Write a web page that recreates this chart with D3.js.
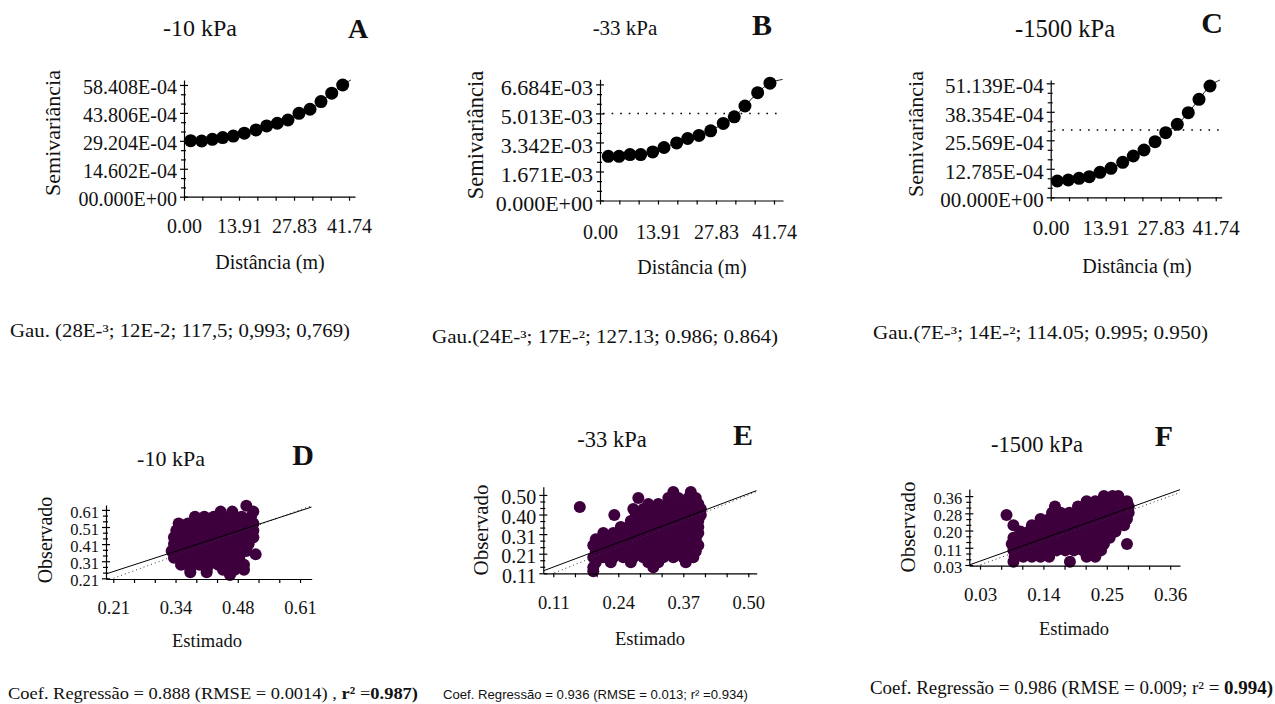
<!DOCTYPE html>
<html>
<head>
<meta charset="utf-8">
<script src="https://cdn.jsdelivr.net/npm/d3@7"></script>
<style>
  body { margin: 0; background: #fff; }
  svg { display: block; }
  text { font-family: "Liberation Serif", "Times New Roman", serif; fill: #111; }
</style>
</head>
<body>
<svg id="fig" width="1275" height="704"></svg>
<script>
// ---------- semivariogram data (lag distance in m, semivariance) ----------
var distA = [1.69, 4.47, 7.16, 9.79, 12.47, 15.25, 18.21, 20.91, 23.60, 26.30, 29.08, 31.87, 34.65, 37.36, 40.14];
var gammaA = [29.3e-4, 29.1e-4, 30.0e-4, 30.9e-4, 31.7e-4, 33.2e-4, 34.9e-4, 37.0e-4, 38.4e-4, 40.1e-4, 43.6e-4, 45.7e-4, 49.7e-4, 54.1e-4, 58.4e-4];
var fitEndA = [42.2, 61.0e-4];

var distB = [2.00, 4.56, 7.19, 9.76, 12.64, 15.35, 18.39, 21.03, 23.74, 26.55, 29.57, 32.21, 34.77, 37.82, 40.77];
var gammaB = [2.546e-3, 2.546e-3, 2.645e-3, 2.645e-3, 2.795e-3, 3.050e-3, 3.316e-3, 3.571e-3, 3.744e-3, 4.010e-3, 4.439e-3, 4.820e-3, 5.440e-3, 6.210e-3, 6.754e-3];
var fitEndB = [43.8, 6.97e-3];
var sillB = 5.013e-3;

var distC = [1.67, 4.45, 7.16, 9.76, 12.47, 15.25, 18.21, 20.89, 23.60, 26.39, 29.09, 32.02, 34.80, 37.51, 40.29];
var gammaC = [7.31e-4, 7.76e-4, 8.52e-4, 9.24e-4, 11.21e-4, 13.01e-4, 15.70e-4, 18.53e-4, 21.22e-4, 24.94e-4, 28.98e-4, 32.75e-4, 37.95e-4, 43.96e-4, 49.93e-4];
var fitEndC = [42.8, 52.6e-4];
var sillC = 30.2e-4;

var distTicks = [0, 13.91, 27.83, 41.74];
var distLabels = ["0.00", "13.91", "27.83", "41.74"];
var yTicksA = [0, 14.602e-4, 29.204e-4, 43.806e-4, 58.408e-4];
var yLabelsA = ["00.000E+00", "14.602E-04", "29.204E-04", "43.806E-04", "58.408E-04"];
var yTicksB = [0, 1.671e-3, 3.342e-3, 5.013e-3, 6.684e-3];
var yLabelsB = ["0.000E+00", "1.671E-03", "3.342E-03", "5.013E-03", "6.684E-03"];
var yTicksC = [0, 12.785e-4, 25.569e-4, 38.354e-4, 51.139e-4];
var yLabelsC = ["00.000E+00", "12.785E-04", "25.569E-04", "38.354E-04", "51.139E-04"];

// ---------- cross-validation data: observed rows, estimated values per row ----------
var obsD = [0.635, 0.60, 0.57, 0.53, 0.49, 0.45, 0.41, 0.37, 0.35, 0.33, 0.29, 0.26, 0.245, 0.23];
var estD = [
  [0.495],
  [0.44, 0.465, 0.51],
  [0.385, 0.405, 0.425, 0.445, 0.465, 0.485, 0.505],
  [0.35, 0.37, 0.39, 0.41, 0.43, 0.45, 0.47, 0.49, 0.51],
  [0.345, 0.36, 0.38, 0.40, 0.42, 0.44, 0.46, 0.48, 0.50, 0.51],
  [0.34, 0.355, 0.375, 0.395, 0.415, 0.435, 0.455, 0.475, 0.495, 0.51],
  [0.34, 0.36, 0.38, 0.40, 0.42, 0.44, 0.46, 0.48, 0.50],
  [0.335, 0.355, 0.375, 0.395, 0.415, 0.435, 0.455, 0.475, 0.495],
  [0.515],
  [0.34, 0.36, 0.38, 0.40, 0.42, 0.44, 0.46, 0.48],
  [0.355, 0.375, 0.395, 0.415, 0.435, 0.455, 0.475, 0.49],
  [0.375, 0.41, 0.445, 0.47, 0.49],
  [0.375, 0.41],
  [0.46]
];

var obsE = [0.515, 0.485, 0.455, 0.44, 0.43, 0.40, 0.37, 0.34, 0.31, 0.28, 0.25, 0.22, 0.19, 0.165, 0.14, 0.12];
var estE = [
  [0.35, 0.385],
  [0.28, 0.34, 0.36, 0.38, 0.395],
  [0.30, 0.32, 0.34, 0.36, 0.38, 0.40],
  [0.163],
  [0.27, 0.29, 0.31, 0.33, 0.35, 0.37, 0.39, 0.405],
  [0.232, 0.275, 0.29, 0.31, 0.33, 0.35, 0.37, 0.39, 0.405],
  [0.265, 0.28, 0.30, 0.32, 0.34, 0.36, 0.38, 0.40],
  [0.245, 0.26, 0.28, 0.30, 0.32, 0.34, 0.36, 0.38, 0.40],
  [0.21, 0.23, 0.25, 0.27, 0.29, 0.31, 0.33, 0.35, 0.37, 0.39, 0.40],
  [0.195, 0.215, 0.235, 0.255, 0.275, 0.295, 0.315, 0.335, 0.355, 0.375, 0.395],
  [0.19, 0.21, 0.23, 0.25, 0.27, 0.29, 0.31, 0.33, 0.35, 0.37, 0.39, 0.40],
  [0.195, 0.215, 0.235, 0.255, 0.275, 0.295, 0.315, 0.335, 0.355, 0.375, 0.395],
  [0.19, 0.21, 0.23, 0.25, 0.27, 0.29, 0.31, 0.33, 0.35, 0.37, 0.39],
  [0.195, 0.225, 0.265, 0.30, 0.32, 0.375],
  [0.19, 0.31],
  [0.19]
];

var obsF = [0.36, 0.335, 0.31, 0.28, 0.27, 0.25, 0.22, 0.19, 0.16, 0.13, 0.10, 0.07, 0.045];
var estF = [
  [0.245, 0.26, 0.27],
  [0.215, 0.23, 0.245, 0.26, 0.275, 0.285],
  [0.16, 0.20, 0.215, 0.23, 0.245, 0.26, 0.275, 0.288],
  [0.155, 0.17, 0.185, 0.20, 0.215, 0.23, 0.245, 0.26, 0.275, 0.288],
  [0.076],
  [0.135, 0.15, 0.165, 0.18, 0.195, 0.21, 0.225, 0.24, 0.255, 0.27, 0.285],
  [0.088, 0.12, 0.135, 0.15, 0.165, 0.18, 0.195, 0.21, 0.225, 0.24, 0.255, 0.27, 0.28],
  [0.10, 0.115, 0.13, 0.145, 0.16, 0.175, 0.19, 0.205, 0.22, 0.235, 0.25, 0.265],
  [0.088, 0.103, 0.118, 0.133, 0.148, 0.163, 0.178, 0.193, 0.208, 0.223, 0.238, 0.255],
  [0.085, 0.10, 0.115, 0.13, 0.145, 0.16, 0.175, 0.19, 0.205, 0.22, 0.235, 0.245, 0.285],
  [0.088, 0.103, 0.118, 0.133, 0.148, 0.163, 0.178, 0.193, 0.208, 0.223, 0.24],
  [0.09, 0.105, 0.12, 0.135, 0.15, 0.215, 0.23],
  [0.088, 0.186]
];

var regSlope = [0.888, 0.936, 0.986];
var regIntercept = [0.063, 0.038, 0.019];

var tickLabelsD = { x: ["0.21", "0.34", "0.48", "0.61"], y: ["0.21", "0.31", "0.41", "0.51", "0.61"] };
var tickLabelsE = { x: ["0.11", "0.24", "0.37", "0.50"], y: ["0.11", "0.21", "0.31", "0.40", "0.50"] };
var tickLabelsF = { x: ["0.03", "0.14", "0.25", "0.36"], y: ["0.03", "0.11", "0.20", "0.28", "0.36"] };

var purple = "#3d003d";
var svg = d3.select("#fig");

// minor ticks: two between each pair of majors
function minors(majors) {
  var out = [];
  for (var i = 0; i < majors.length - 1; i++) {
    var step = (majors[i + 1] - majors[i]) / 3;
    out.push(majors[i] + step, majors[i] + 2 * step);
  }
  return out;
}

function evenTicks(lo, hi, n) {
  return d3.range(n).map(function(i) { return lo + (hi - lo) * i / (n - 1); });
}

function styleAxis(g, size) {
  g.attr("font-family", null).attr("font-size", size);
  g.selectAll("path, line").attr("stroke", "#000").attr("stroke-width", 1.2);
  g.selectAll("text").attr("fill", "#111");
}

function drawAxes(g, x, y, o) {
  var x0 = x.range()[0], y0 = y.range()[0];

  // y axis, major ticks with labels
  var ya = g.append("g").attr("transform", "translate(" + x0 + ",0)")
    .call(d3.axisLeft(y).tickValues(o.yTicks).tickFormat(function(d, i) { return o.yLabels[i]; })
      .tickSizeInner(4).tickSizeOuter(0).tickPadding(3));
  styleAxis(ya, o.yFont);
  ya.selectAll("text").attr("dy", "0.45em");
  var yi = g.append("g").attr("transform", "translate(" + x0 + ",0)")
    .call(d3.axisRight(y).tickValues(o.yTicks).tickFormat("").tickSizeInner(4).tickSizeOuter(0));
  yi.select(".domain").remove();
  styleAxis(yi, 1);
  var ym = g.append("g").attr("transform", "translate(" + x0 + ",0)")
    .call(d3.axisLeft(y).tickValues(minors(o.yTicks)).tickFormat("").tickSizeInner(3).tickSizeOuter(0));
  ym.select(".domain").remove();
  styleAxis(ym, 1);
  var ym2 = g.append("g").attr("transform", "translate(" + x0 + ",0)")
    .call(d3.axisRight(y).tickValues(minors(o.yTicks)).tickFormat("").tickSizeInner(2).tickSizeOuter(0));
  ym2.select(".domain").remove();
  styleAxis(ym2, 1);

  // x axis
  var xa = g.append("g").attr("transform", "translate(0," + y0 + ")")
    .call(d3.axisBottom(x).tickValues(o.xTicks).tickFormat(function(d, i) { return o.xLabels[i]; })
      .tickSizeInner(4).tickSizeOuter(0).tickPadding(o.xPad));
  styleAxis(xa, o.xFont);
  var xm = g.append("g").attr("transform", "translate(0," + y0 + ")")
    .call(d3.axisBottom(x).tickValues(minors(o.xTicks)).tickFormat("").tickSizeInner(4).tickSizeOuter(0));
  xm.select(".domain").remove();
  styleAxis(xm, 1);
}

function label(txt, x, y, size, opts) {
  opts = opts || {};
  var t = svg.append("text")
    .attr("x", x).attr("y", y)
    .attr("font-size", size)
    .attr("text-anchor", opts.anchor || "middle")
    .attr("font-weight", opts.bold ? "bold" : null)
    .text(txt);
  if (opts.rotate) t.attr("transform", "rotate(-90," + x + "," + y + ")");
  return t;
}

// ---------- semivariogram panels ----------
function variogram(p) {
  var g = svg.append("g");
  var x = d3.scaleLinear().domain([0, p.xMax]).range([p.left, p.right]);
  var y = d3.scaleLinear().domain([0, p.yMax]).range([p.bottom, p.top]);

  drawAxes(g, x, y, {
    yTicks: p.yTicks, yLabels: p.yLabels, yFont: p.yFont,
    xTicks: distTicks, xLabels: distLabels, xFont: p.xFont, xPad: p.xPad
  });

  if (p.sill !== undefined) {
    g.append("line")
      .attr("x1", x(0) + 3).attr("x2", x(p.xMax))
      .attr("y1", y(p.sill)).attr("y2", y(p.sill))
      .attr("stroke", "#000").attr("stroke-width", 1.6)
      .attr("stroke-dasharray", "1.6,7");
  }

  var pts = p.dist.map(function(d, i) { return [d, p.gamma[i]]; });
  var fit = pts.concat([p.fitEnd]);
  g.append("path")
    .attr("d", d3.line().x(function(d) { return x(d[0]); }).y(function(d) { return y(d[1]); })
      .curve(d3.curveMonotoneX)(fit))
    .attr("fill", "none").attr("stroke", "#000").attr("stroke-width", 0.9);

  g.selectAll("circle.pt").data(pts).enter().append("circle")
    .attr("class", "pt")
    .attr("cx", function(d) { return x(d[0]); })
    .attr("cy", function(d) { return y(d[1]); })
    .attr("r", 6.5)
    .attr("fill", "#000");
}

variogram({ left: 184, right: 355, bottom: 196.7, top: 80, xMax: 43.25, yMax: 61.0e-4,
  yTicks: yTicksA, yLabels: yLabelsA, yFont: 20, xFont: 20, xPad: 18,
  dist: distA, gamma: gammaA, fitEnd: fitEndA });
variogram({ left: 600, right: 783, bottom: 200.5, top: 79.3, xMax: 43.9, yMax: 6.978e-3,
  yTicks: yTicksB, yLabels: yLabelsB, yFont: 22, xFont: 20, xPad: 20,
  dist: distB, gamma: gammaB, fitEnd: fitEndB, sill: sillB });
variogram({ left: 1050.7, right: 1221.7, bottom: 197.3, top: 80, xMax: 43.25, yMax: 52.62e-4,
  yTicks: yTicksC, yLabels: yLabelsC, yFont: 21, xFont: 21, xPad: 19,
  dist: distC, gamma: gammaC, fitEnd: fitEndC, sill: sillC });

// ---------- cross-validation panels ----------
function crossval(p, idx) {
  var g = svg.append("g");
  var x = d3.scaleLinear().domain(p.xDomain).range([p.left, p.right]);
  var y = d3.scaleLinear().domain(p.yDomain).range([p.bottom, p.top]);
  var clipId = "clip" + idx;
  svg.append("clipPath").attr("id", clipId).append("rect")
    .attr("x", p.left).attr("y", p.top).attr("width", p.right - p.left).attr("height", p.bottom - p.top);

  var pts = [];
  p.obs.forEach(function(o, i) { p.est[i].forEach(function(e) { pts.push([e, o]); }); });
  g.selectAll("circle").data(pts).enter().append("circle")
    .attr("cx", function(d) { return x(d[0]); })
    .attr("cy", function(d) { return y(d[1]); })
    .attr("r", 6)
    .attr("fill", purple);

  var lines = g.append("g").attr("clip-path", "url(#" + clipId + ")");
  var xs = p.xDomain;
  lines.append("line")
    .attr("x1", x(xs[0])).attr("y1", y(xs[0])).attr("x2", x(xs[1])).attr("y2", y(xs[1]))
    .attr("stroke", "#333").attr("stroke-width", 1).attr("stroke-dasharray", "1,3");
  var b = regSlope[idx], a = regIntercept[idx];
  lines.append("line")
    .attr("x1", x(xs[0])).attr("y1", y(a + b * xs[0])).attr("x2", x(xs[1])).attr("y2", y(a + b * xs[1]))
    .attr("stroke", "#000").attr("stroke-width", 1);

  drawAxes(g, x, y, {
    yTicks: p.yTicks, yLabels: p.labels.y, yFont: p.yFont,
    xTicks: p.xTicks, xLabels: p.labels.x, xFont: p.xFont, xPad: p.xPad
  });
}

crossval({ left: 106, right: 311.7, bottom: 579, top: 505, xDomain: [0.1944, 0.635], yDomain: [0.206, 0.6387],
  xTicks: evenTicks(0.21, 0.61, 4), yTicks: evenTicks(0.21, 0.61, 5), labels: tickLabelsD,
  yFont: 16.5, xFont: 18.5, xPad: 18, obs: obsD, est: estD }, 0);
crossval({ left: 543.3, right: 756.7, bottom: 573.3, top: 486.7, xDomain: [0.09, 0.5168], yDomain: [0.11, 0.541],
  xTicks: evenTicks(0.11, 0.50, 4), yTicks: evenTicks(0.11, 0.50, 5), labels: tickLabelsE,
  yFont: 20, xFont: 18.5, xPad: 19, obs: obsE, est: estE }, 1);
crossval({ left: 969.3, right: 1180, bottom: 565.7, top: 489, xDomain: [0.0114, 0.377], yDomain: [0.0266, 0.394],
  xTicks: evenTicks(0.03, 0.36, 4), yTicks: evenTicks(0.03, 0.36, 5), labels: tickLabelsF,
  yFont: 16.5, xFont: 19, xPad: 18, obs: obsF, est: estF }, 2);

// ---------- titles, letters, axis titles ----------
label("-10 kPa", 200, 36, 24);
label("A", 358, 38, 28, { bold: true });
label("-33 kPa", 625, 35, 21);
label("B", 762, 35, 30, { bold: true });
label("-1500 kPa", 1065, 37, 24.5);
label("C", 1212, 33, 30, { bold: true });

label("Semivariância", 60, 133, 22, { rotate: true });
label("Semivariância", 483, 135, 22.5, { rotate: true });
label("Semivariância", 923, 134, 22, { rotate: true });
label("Distância (m)", 270, 269, 20);
label("Distância (m)", 692, 274, 20);
label("Distância (m)", 1137, 273, 20);

label("-10 kPa", 171, 466, 22);
label("D", 303, 465, 30, { bold: true });
label("-33 kPa", 612, 447, 22.5);
label("E", 743, 445, 30, { bold: true });
label("-1500 kPa", 1037, 452, 22.5);
label("F", 1164, 446, 30, { bold: true });

label("Observado", 52, 540, 20, { rotate: true });
label("Observado", 488, 530, 21, { rotate: true });
label("Observado", 915, 527, 21, { rotate: true });
label("Estimado", 207, 647, 18.5);
label("Estimado", 650, 645, 18.5);
label("Estimado", 1074, 635, 18.5);

// ---------- model captions ----------
label("Gau. (28E-³; 12E-2; 117,5; 0,993; 0,769)", 10, 337, 18, { anchor: "start" })
  .attr("textLength", 340).attr("lengthAdjust", "spacingAndGlyphs");
label("Gau.(24E-³; 17E-²; 127.13; 0.986; 0.864)", 432, 343, 18, { anchor: "start" })
  .attr("textLength", 346).attr("lengthAdjust", "spacingAndGlyphs");
label("Gau.(7E-³; 14E-²; 114.05; 0.995; 0.950)", 873, 339, 18, { anchor: "start" })
  .attr("textLength", 335).attr("lengthAdjust", "spacingAndGlyphs");

var capD = label("", 8, 699, 17.5, { anchor: "start" })
  .attr("textLength", 410).attr("lengthAdjust", "spacingAndGlyphs");
capD.append("tspan").text("Coef. Regressão = 0.888 (RMSE = 0.0014) , ");
capD.append("tspan").attr("font-weight", "bold").text("r²");
capD.append("tspan").text(" =");
capD.append("tspan").attr("font-weight", "bold").text("0.987)");

label("Coef. Regressão = 0.936 (RMSE = 0.013; r² =0.934)", 443, 699, 13, { anchor: "start" })
  .style("font-family", "'Liberation Sans', Arial, sans-serif")
  .attr("textLength", 305).attr("lengthAdjust", "spacingAndGlyphs");

var capF = label("", 870, 694, 18, { anchor: "start" })
  .attr("textLength", 403).attr("lengthAdjust", "spacingAndGlyphs");
capF.append("tspan").text("Coef. Regressão = 0.986 (RMSE = 0.009; r² = ");
capF.append("tspan").attr("font-weight", "bold").text("0.994)");
</script>
</body>
</html>
